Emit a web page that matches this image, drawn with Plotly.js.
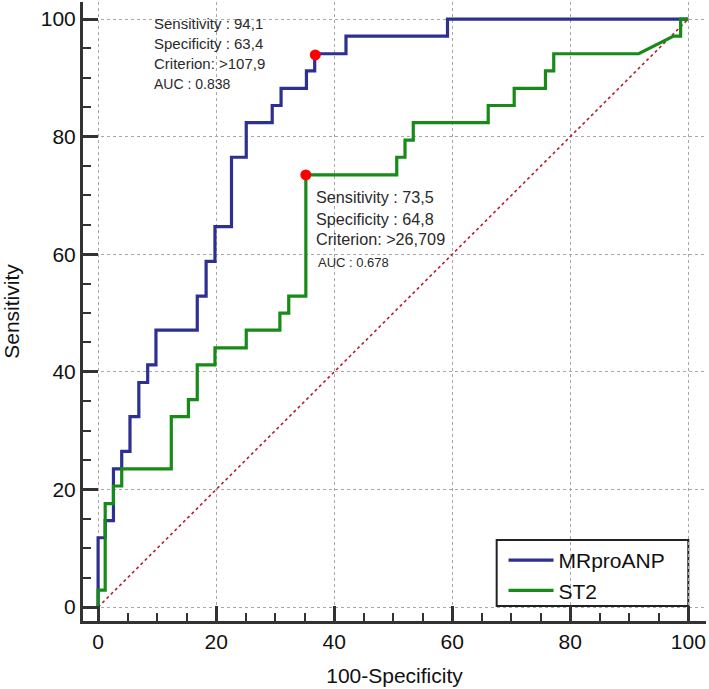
<!DOCTYPE html>
<html>
<head>
<meta charset="utf-8">
<script src="https://cdn.plot.ly/plotly-3.0.1.min.js"></script>
<style>html,body{margin:0;padding:0;background:#fff;}</style>
</head>
<body>
<div id="chart" style="width:709px;height:689px;"></div>
<script>
// ROC curve vertices (100-Specificity, Sensitivity)
const mrproanpX = [0,0,1.2,1.2,2.6,2.6,4.0,4.0,5.4,5.4,6.9,6.9,8.4,8.4,9.8,9.8,16.8,16.8,18.3,18.3,19.8,19.8,22.6,22.6,25.1,25.1,29.5,29.5,31.0,31.0,35.3,35.3,36.7,36.7,42.0,42.0,59.2,59.2,100];
const mrproanpY = [0,11.8,11.8,14.7,14.7,23.5,23.5,26.5,26.5,32.4,32.4,38.2,38.2,41.2,41.2,47.1,47.1,52.9,52.9,58.8,58.8,64.7,64.7,76.5,76.5,82.4,82.4,85.3,85.3,88.2,88.2,91.2,91.2,94.1,94.1,97.1,97.1,100,100];

const st2X = [0,0,1.2,1.2,2.6,2.6,4.0,4.0,12.4,12.4,15.3,15.3,16.8,16.8,19.8,19.8,25.1,25.1,30.8,30.8,32.3,32.3,35.2,35.2,50.6,50.6,52.0,52.0,53.4,53.4,66.1,66.1,70.5,70.5,75.8,75.8,77.2,77.2,91.6,97.5,98.7,98.7,100];
const st2Y = [0,2.9,2.9,17.6,17.6,20.6,20.6,23.5,23.5,32.4,32.4,35.3,35.3,41.2,41.2,44.1,44.1,47.1,47.1,50.0,50.0,52.9,52.9,73.5,73.5,76.5,76.5,79.4,79.4,82.4,82.4,85.3,85.3,88.2,88.2,91.2,91.2,94.1,94.1,97.1,97.1,100,100];

const diagX = [0,100];
const diagY = [0,100];

const cutoffX = [36.8, 35.2];
const cutoffY = [93.9, 73.5];

const seriesNames = ["MRproANP", "ST2"];
const tickVals = [0,20,40,60,80,100];

const mrproLabels = ["Sensitivity : 94,1", "Specificity : 63,4", "Criterion: >107,9", "AUC : 0.838"];
const st2Labels = ["Sensitivity : 73,5", "Specificity : 64,8", "Criterion: >26,709", "AUC : 0.678"];

const FONT = "Liberation Sans, Arial, sans-serif";
const BLUE = "#2d3091";
const GREEN = "#178a17";

const traces = [
  {x: diagX, y: diagY, mode: "lines", line: {color: "#b3202a", width: 1.6, dash: "dot"}, showlegend: false, hoverinfo: "skip"},
  {x: mrproanpX, y: mrproanpY, mode: "lines", name: seriesNames[0], line: {color: BLUE, width: 3.2}},
  {x: st2X, y: st2Y, mode: "lines", name: seriesNames[1], line: {color: GREEN, width: 3.2}},
  {x: cutoffX, y: cutoffY, mode: "markers", marker: {color: "#ff0000", size: 11}, showlegend: false}
];

const axisCommon = {
  showline: true, linecolor: "#333", linewidth: 3,
  ticks: "inside", ticklen: 15, tickwidth: 3, tickcolor: "#333",
  tickvals: tickVals,
  minor: {dtick: 5, tick0: 0, ticks: "inside", ticklen: 8, tickwidth: 2, tickcolor: "#333", showgrid: false},
  showgrid: true, gridcolor: "#a8a8a8", gridwidth: 1, griddash: "dot",
  zeroline: false, mirror: false,
  tickfont: {family: FONT, size: 21, color: "#111"},
  automargin: false, fixedrange: true
};

function ann(text, x, y, size) {
  return {x: x, y: y, xref: "x", yref: "y", text: text, showarrow: false,
    xanchor: "left", yanchor: "middle", align: "left",
    font: {family: FONT, size: size, color: "#2a2a2a"}};
}

const annotations = [
  ann(mrproLabels[0], 9.2, 99.2, 15),
  ann(mrproLabels[1], 9.2, 95.9, 15),
  ann(mrproLabels[2], 9.2, 92.5, 15),
  ann(mrproLabels[3], 9.2, 88.9, 14),
  ann(st2Labels[0], 36.5, 69.7, 16.2),
  ann(st2Labels[1], 36.5, 66.0, 16.2),
  ann(st2Labels[2], 36.5, 62.6, 16.2),
  ann(st2Labels[3], 37.0, 58.6, 13)
];

const layout = {
  width: 709, height: 689,
  margin: {l: 83, r: 3, t: 2, b: 68, pad: 0},
  paper_bgcolor: "#fff", plot_bgcolor: "#fff",
  font: {family: FONT, color: "#111"},
  xaxis: Object.assign({}, axisCommon, {range: [-2.56, 103.0],
    title: {text: "100-Specificity", font: {family: FONT, size: 21, color: "#111"}, standoff: 17}}),
  yaxis: Object.assign({}, axisCommon, {range: [-2.36, 102.9],
    title: {text: "Sensitivity", font: {family: FONT, size: 21, color: "#111"}, standoff: 16}}),
  showlegend: true,
  legend: {x: 0.675, y: 0.131, xanchor: "left", yanchor: "top", bgcolor: "rgba(0,0,0,0)",
    borderwidth: 0, font: {family: FONT, size: 21, color: "#111"}, itemwidth: 45, tracegroupgap: 0},
  shapes: [
    {type: "rect", xref: "paper", yref: "paper", x0: 0.664, x1: 0.9716, y0: 0.0242, y1: 0.1309,
     line: {color: "#222", width: 2}, fillcolor: "#fff", layer: "between"}
  ],
  annotations: annotations
};

Plotly.newPlot("chart", traces, layout, {displayModeBar: false, staticPlot: true});
</script>
</body>
</html>
